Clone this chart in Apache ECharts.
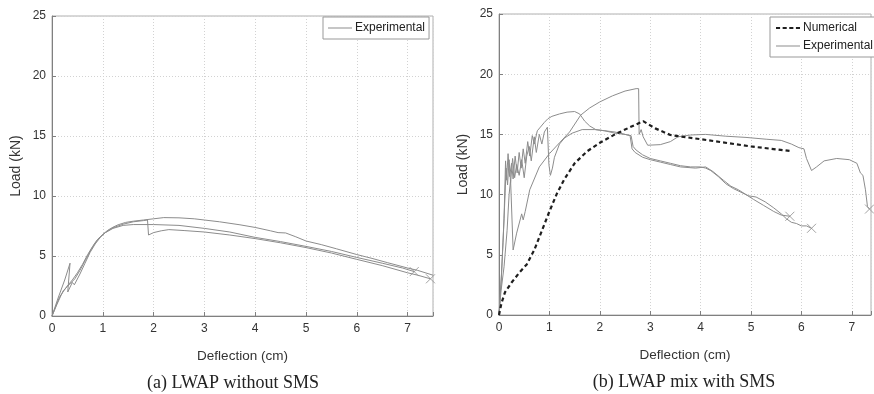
<!DOCTYPE html>
<html>
<head>
<meta charset="utf-8">
<script src="https://cdn.jsdelivr.net/npm/echarts@6/dist/echarts.min.js"></script>
<style>
html,body{margin:0;padding:0;background:#fff;}
#c{width:874px;height:394px;}
</style>
</head>
<body>
<div id="c"></div>
<script>
// ---- Data (Deflection cm, Load kN) ----
const xTicksLeft = [0,1,2,3,4,5,6,7];
const yTicks = [0,5,10,15,20,25];

// (a) LWAP without SMS - experimental specimens
const leftExpA = [[0,0],[0.15,1.6],[0.3,2.5],[0.4,3.0],[0.5,3.6],[0.6,4.3],[0.7,5.1],[0.8,5.8],[0.9,6.4],[1.0,6.8],[1.1,7.15],[1.2,7.4],[1.3,7.6],[1.45,7.8],[1.6,7.9],[1.8,8.0],[2.0,8.1],[2.2,8.2],[2.5,8.18],[2.8,8.1],[3.0,8.0],[3.3,7.85],[3.7,7.6],[4.0,7.38],[4.3,7.1],[4.45,6.95],[4.6,6.92],[4.8,6.6],[5.0,6.25],[5.3,5.95],[5.6,5.6],[6.0,5.12],[6.3,4.8],[6.6,4.45],[7.0,4.0],[7.2,3.8],[7.5,3.4]];
const leftExpB = [[0,0],[0.12,1.5],[0.25,3.0],[0.355,4.4],[0.31,2.0],[0.4,2.8],[0.44,2.6],[0.55,3.5],[0.65,4.4],[0.75,5.3],[0.85,6.0],[0.95,6.55],[1.05,6.95],[1.2,7.35],[1.4,7.65],[1.6,7.85],[1.8,7.95],[1.88,8.0],[1.9,6.75],[2.0,6.95],[2.15,7.1],[2.3,7.2],[2.6,7.12],[3.0,7.0],[3.5,6.75],[4.0,6.45],[4.5,6.1],[5.0,5.7],[5.5,5.25],[6.0,4.72],[6.5,4.2],[7.0,3.6],[7.2,3.4],[7.45,3.1]];
const leftExpC = [[0,0],[0.1,1.0],[0.22,2.1],[0.3,2.45],[0.45,3.1],[0.55,3.8],[0.65,4.6],[0.75,5.4],[0.85,6.1],[0.95,6.6],[1.05,6.95],[1.2,7.3],[1.4,7.55],[1.6,7.62],[2.0,7.62],[2.5,7.55],[3.0,7.3],[3.5,7.0],[4.0,6.55],[4.5,6.2],[5.0,5.8],[5.5,5.38],[6.0,4.88],[6.5,4.4],[6.9,4.0],[7.13,3.7]];

// (b) LWAP mix with SMS
const rightNumerical = [[0,0],[0.05,1.0],[0.12,1.9],[0.25,2.7],[0.4,3.5],[0.55,4.2],[0.7,5.4],[0.85,7.0],[1.0,8.6],[1.15,10.1],[1.3,11.3],[1.5,12.6],[1.75,13.6],[2.0,14.3],[2.3,15.0],[2.6,15.6],[2.86,16.1],[3.1,15.5],[3.4,14.95],[4.0,14.6],[5.0,14.0],[5.82,13.6]];
const rightExpA = [[0,0],[0.05,3.5],[0.1,8],[0.13,12.8],[0.15,11.2],[0.18,13.4],[0.21,11.5],[0.25,12.6],[0.28,11.3],[0.32,13.2],[0.36,11.8],[0.4,13.5],[0.44,12.2],[0.48,13.8],[0.52,12.6],[0.57,14.4],[0.61,13.2],[0.66,14.9],[0.7,14.2],[0.76,15.3],[0.82,15.6],[0.9,16.0],[0.97,16.3],[1.05,16.5],[1.2,16.7],[1.35,16.85],[1.5,16.9],[1.6,16.7],[1.7,16.1],[1.8,15.7],[1.92,15.4],[2.1,15.3],[2.3,15.2],[2.5,15.0],[2.62,14.9],[2.66,14.0],[2.72,13.7],[2.85,13.3],[3.0,13.0],[3.2,12.8],[3.4,12.6],[3.6,12.4],[3.8,12.3],[4.0,12.3],[4.1,12.2],[4.2,12.0],[4.35,11.5],[4.5,10.9],[4.65,10.5],[4.8,10.2],[4.95,9.9],[5.1,9.8],[5.28,9.4],[5.45,8.9],[5.6,8.4],[5.7,8.0],[5.8,7.7],[5.9,7.6],[6.0,7.4],[6.1,7.4],[6.2,7.2]];
const rightExpB = [[0,0],[0.04,2],[0.1,4],[0.16,7],[0.2,10],[0.23,11.2],[0.28,5.4],[0.35,6.8],[0.45,8.4],[0.48,7.9],[0.52,8.6],[0.61,10.4],[0.8,12.3],[1.0,13.4],[1.2,14.3],[1.4,15.2],[1.62,16.6],[1.8,17.2],[2.0,17.7],[2.25,18.2],[2.5,18.6],[2.72,18.8],[2.77,18.8],[2.78,15.0],[2.82,15.4],[2.86,14.8],[2.95,14.1],[3.2,14.15],[3.4,14.4],[3.55,14.8],[3.8,14.95],[4.1,15.0],[4.5,14.85],[4.9,14.75],[5.3,14.6],[5.6,14.5],[5.8,14.2],[5.95,13.9],[6.05,13.8],[6.1,13.0],[6.2,12.0],[6.3,12.3],[6.45,12.8],[6.7,13.0],[6.95,12.9],[7.1,12.6],[7.17,11.8],[7.22,11.6],[7.27,10.4],[7.31,9.0],[7.35,8.8]];
const rightExpC = [[0,0],[0.04,2.5],[0.08,6],[0.12,10],[0.14,12.2],[0.17,10.8],[0.2,12.9],[0.23,11.0],[0.27,13.0],[0.31,11.4],[0.35,12.5],[0.4,11.6],[0.45,12.9],[0.5,11.4],[0.55,13.2],[0.6,14.0],[0.64,12.8],[0.7,14.8],[0.74,13.5],[0.8,15.0],[0.85,14.2],[0.9,15.2],[0.96,15.6],[0.99,12.5],[1.02,11.6],[1.06,12.2],[1.1,13.1],[1.2,14.2],[1.3,14.7],[1.45,15.1],[1.65,15.4],[1.9,15.4],[2.1,15.3],[2.3,15.1],[2.5,15.0],[2.6,14.9],[2.64,13.8],[2.7,13.5],[2.85,13.1],[3.0,12.9],[3.2,12.7],[3.4,12.5],[3.6,12.3],[3.9,12.2],[4.1,12.3],[4.25,11.9],[4.45,11.2],[4.6,10.7],[4.75,10.4],[4.9,10.0],[5.05,9.6],[5.25,9.1],[5.45,8.6],[5.6,8.3],[5.77,8.2]];

const captionLeft = '(a) LWAP without SMS';
const captionRight = '(b) LWAP mix with SMS';

// ---- Styling ----
const expColor = '#8c8c8c';
const numColor = '#1e1e1e';
const FONT = 'Liberation Sans, Arial, sans-serif';
const last = a => a[a.length - 1];
const xSymbol = 'path://M0,0L10,10M10,0L0,10';
const solidIcon = 'path://M0,0h24v1h-24z';
const dashIcon = 'path://M0,0h4v2h-4zM6.5,0h4v2h-4zM13,0h4v2h-4zM19.5,0h4v2h-4z';

function xAxisCfg(idx, max) {
  return {
    type: 'value', gridIndex: idx, min: 0, max: max, interval: 1,
    name: 'Deflection (cm)', nameLocation: 'middle', nameGap: 33,
    nameTextStyle: {fontFamily: FONT, fontSize: 13.5, color: '#333'},
    axisLine: {show: true, lineStyle: {color: '#808080', width: 1}},
    axisTick: {show: true, inside: true, length: 4, lineStyle: {color: '#808080'}},
    axisLabel: {fontFamily: FONT, fontSize: 12, color: '#333', margin: 7,
      formatter: v => (xTicksLeft.indexOf(v) >= 0 ? String(v) : '')},
    splitLine: {show: true, lineStyle: {color: '#d2d2d2', type: [1, 2], width: 1}}
  };
}
function yAxisCfg(idx) {
  return {
    type: 'value', gridIndex: idx, min: 0, max: 25, interval: 5,
    name: 'Load (kN)', nameLocation: 'middle', nameGap: 29,
    nameTextStyle: {fontFamily: FONT, fontSize: 14, color: '#333'},
    axisLine: {show: true, lineStyle: {color: '#808080', width: 1}},
    axisTick: {show: true, inside: true, length: 4, lineStyle: {color: '#808080'}},
    axisLabel: {fontFamily: FONT, fontSize: 12, color: '#333', margin: 6,
      formatter: v => (yTicks.indexOf(v) >= 0 ? String(v) : '')},
    splitLine: {show: true, lineStyle: {color: '#d2d2d2', type: [1, 2], width: 1}}
  };
}
function expLine(data, xi) {
  return {type: 'line', name: 'Experimental', xAxisIndex: xi, yAxisIndex: xi, data: data,
    showSymbol: false, symbol: 'none', animation: false,
    lineStyle: {color: expColor, width: 1}, itemStyle: {color: expColor}, z: 3};
}
function endMarks(points, xi) {
  return {type: 'scatter', name: 'end', xAxisIndex: xi, yAxisIndex: xi, data: points,
    symbol: xSymbol, symbolSize: 9, animation: false, silent: true,
    itemStyle: {color: 'rgba(0,0,0,0)', borderColor: expColor, borderWidth: 1}, z: 4};
}

const chart = echarts.init(document.getElementById('c'), null, {renderer: 'canvas'});
chart.setOption({
  backgroundColor: '#fff',
  animation: false,
  grid: [
    {left: 52, top: 16, width: 381, height: 300, show: true, borderColor: '#b0b0b0', borderWidth: 1, backgroundColor: '#fff'},
    {left: 499, top: 14, width: 375, height: 301, show: true, borderColor: '#b0b0b0', borderWidth: 1, backgroundColor: '#fff'}
  ],
  xAxis: [xAxisCfg(0, 7.5), xAxisCfg(1, 7.38)],
  yAxis: [yAxisCfg(0), yAxisCfg(1)],
  legend: [
    {data: [{name: 'Experimental', icon: solidIcon}], left: 323, top: 17, orient: 'vertical',
      borderColor: '#999', borderWidth: 1, padding: [5, 4, 5, 5], itemWidth: 24, itemHeight: 12, itemGap: 3,
      backgroundColor: '#fff',
      textStyle: {fontFamily: FONT, fontSize: 12, color: '#222', padding: [0, 0, 0, -2]}},
    {data: [{name: 'Numerical', icon: dashIcon}, {name: 'Experimental', icon: solidIcon}], left: 770, top: 17, orient: 'vertical',
      borderColor: '#999', borderWidth: 1, padding: [5, 6, 5, 6], itemWidth: 24, itemHeight: 12, itemGap: 6,
      backgroundColor: '#fff',
      textStyle: {fontFamily: FONT, fontSize: 12, color: '#222', padding: [0, 0, 0, -2]}}
  ],
  graphic: [
    {type: 'text', x: 233, y: 383, style: {text: captionLeft, font: '18px "Liberation Serif", serif', fill: '#222', align: 'center', verticalAlign: 'middle'}},
    {type: 'text', x: 684, y: 382, style: {text: captionRight, font: '18px "Liberation Serif", serif', fill: '#222', align: 'center', verticalAlign: 'middle'}}
  ],
  series: [
    expLine(leftExpA, 0), expLine(leftExpB, 0), expLine(leftExpC, 0),
    endMarks([last(leftExpB), last(leftExpC)], 0),
    {type: 'line', name: 'Numerical', xAxisIndex: 1, yAxisIndex: 1, data: rightNumerical,
      showSymbol: false, symbol: 'none', animation: false, z: 5,
      lineStyle: {color: numColor, width: 2.2, type: [4, 3]}, itemStyle: {color: numColor}},
    expLine(rightExpA, 1), expLine(rightExpB, 1), expLine(rightExpC, 1),
    endMarks([last(rightExpA), last(rightExpB), last(rightExpC)], 1)
  ]
});
</script>
</body>
</html>
